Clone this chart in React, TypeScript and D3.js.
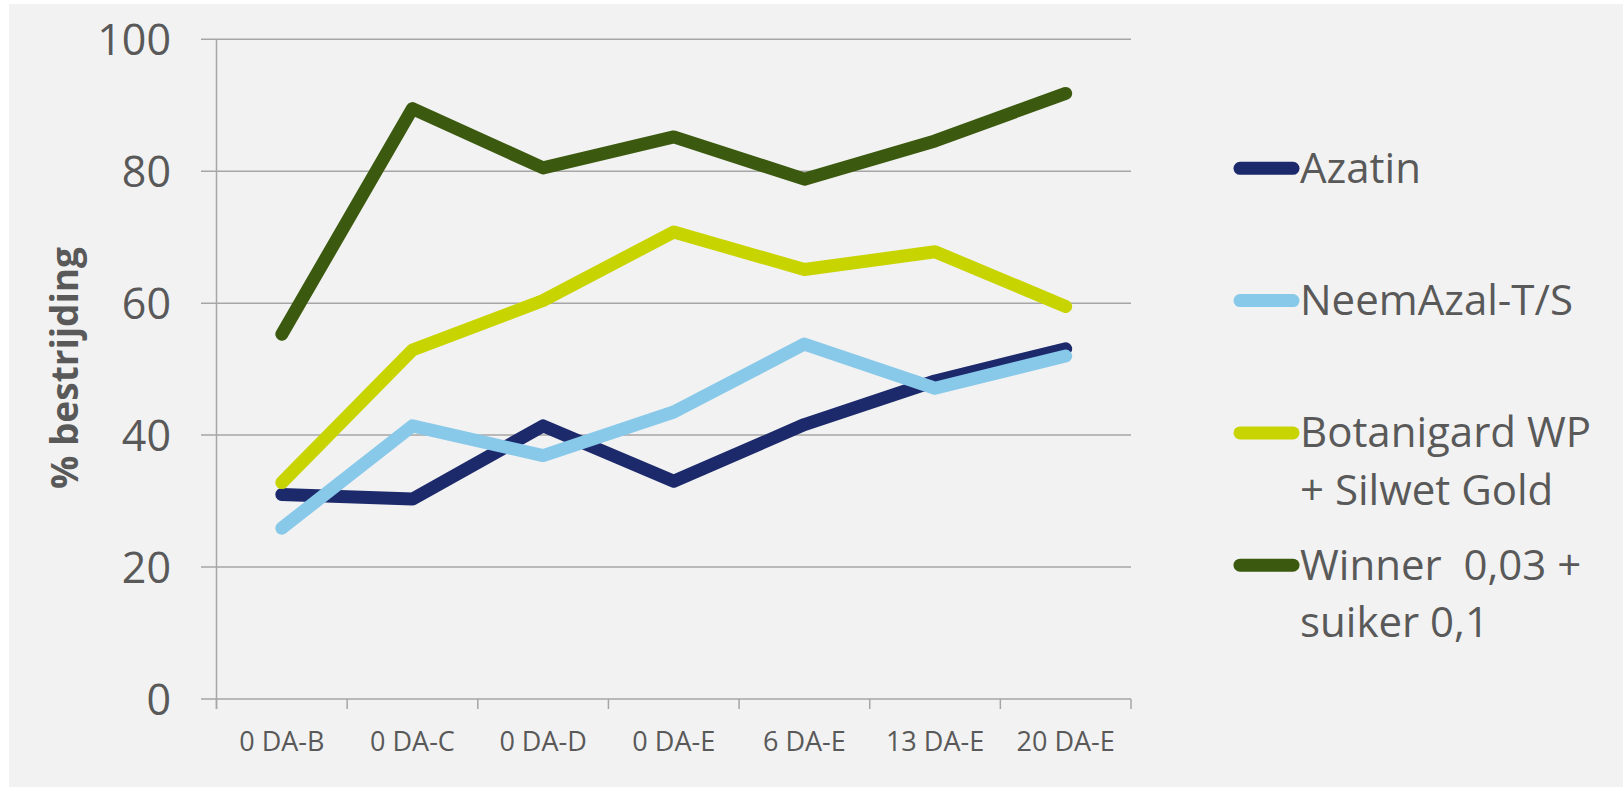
import * as d3 from "d3";
import React from "react";

const categories = ["0 DA-B", "0 DA-C", "0 DA-D", "0 DA-E", "6 DA-E", "13 DA-E", "20 DA-E"];
const azatin = [31, 30.3, 41.4, 33, 41.6, 48.2, 53.1];
const neemAzal = [25.9, 41.4, 36.9, 43.5, 53.8, 47.1, 52];
const botanigard = [32.8, 52.9, 60.4, 70.8, 65.1, 67.8, 59.5];
const winner = [55.3, 89.5, 80.5, 85.2, 78.8, 84.6, 91.8];
const yTicks = [0, 20, 40, 60, 80, 100];

const seriesList = [
  { name: ["Azatin"], values: azatin, color: "#1c2a6b" },
  { name: ["NeemAzal-T/S"], values: neemAzal, color: "#88c9ea" },
  { name: ["Botanigard WP", "+ Silwet Gold"], values: botanigard, color: "#c8d400" },
  { name: ["Winner  0,03 +", "suiker 0,1"], values: winner, color: "#3c5a0f" },
];

const W = 1623;
const H = 787;
const m = { left: 216.5, right: 1131, top: 39.3, bottom: 699 };
const textColor = "#595959";
const gridColor = "#a6a6a6";
const font = "'Open Sans', sans-serif";

const App: React.FC = () => {
  const x = d3.scaleBand<string>().domain(categories).range([m.left, m.right]).padding(0);
  const y = d3.scaleLinear().domain([0, 100]).range([m.bottom, m.top]);
  const cx = (c: string) => (x(c) as number) + x.bandwidth() / 2;

  const line = d3
    .line<number>()
    .x((_, i) => cx(categories[i]))
    .y((d) => y(d));

  const tickXs = categories.map((c) => x(c) as number).concat([m.right]);

  return (
    <svg width={W} height={H} style={{ position: "absolute", left: 0, top: 0, display: "block" }}>
      <rect x={0} y={0} width={W} height={H} fill="#ffffff" />
      <rect x={9} y={4} width={W - 9} height={H - 4} fill="#f2f2f2" />

      {/* gridlines + y labels */}
      {yTicks.map((t) => (
        <g key={t}>
          <line x1={201} x2={m.right} y1={y(t)} y2={y(t)} stroke={gridColor} strokeWidth={1.5} />
          <text x={171} y={y(t) + 15.5} textAnchor="end" fontFamily={font} fontSize={43} fill={textColor}>
            {t}
          </text>
        </g>
      ))}

      {/* y axis line */}
      <line x1={m.left} x2={m.left} y1={m.top} y2={m.bottom + 10} stroke={gridColor} strokeWidth={1.5} />

      {/* x ticks */}
      {tickXs.map((tx, i) => (
        <line key={i} x1={tx} x2={tx} y1={m.bottom} y2={m.bottom + 10} stroke={gridColor} strokeWidth={1.5} />
      ))}
      {categories.map((c) => (
        <text key={c} x={cx(c)} y={751} textAnchor="middle" fontFamily={font} fontSize={27} fill={textColor}>
          {c}
        </text>
      ))}

      {/* y title */}
      <text
        transform="translate(78, 368) rotate(-90)"
        textAnchor="middle"
        fontFamily={font}
        fontWeight="bold"
        fontSize={37}
        fill={textColor}
      >
        % bestrijding
      </text>

      {/* series */}
      {seriesList.map((s) => (
        <path
          key={s.name[0]}
          d={line(s.values) || ""}
          fill="none"
          stroke={s.color}
          strokeWidth={13}
          strokeLinecap="round"
          strokeLinejoin="round"
        />
      ))}

      {/* legend */}
      {seriesList.map((s, i) => {
        const ly = 168.3 + i * 132.3;
        return (
          <g key={s.name[0]}>
            <line x1={1240} x2={1293} y1={ly} y2={ly} stroke={s.color} strokeWidth={13} strokeLinecap="round" />
            {s.name.map((n, j) => (
              <text
                key={j}
                x={1300}
                y={ly + 14.5 + j * 57.5}
                fontFamily={font}
                fontSize={42}
                fill={textColor}
                style={{ whiteSpace: "pre" }}
              >
                {n}
              </text>
            ))}
          </g>
        );
      })}
    </svg>
  );
};

export default App;
